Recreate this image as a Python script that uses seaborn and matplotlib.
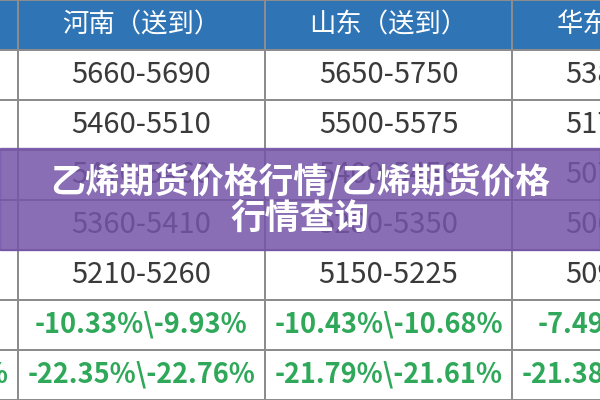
import numpy as np
import matplotlib
matplotlib.use("Agg")
import matplotlib.pyplot as plt
import matplotlib.patches as mpatches
import seaborn as sns

sns.set_style("white")
plt.rcParams["font.family"] = ["Noto Sans CJK SC", "DejaVu Sans"]

# table content (columns are clipped at the picture edges)
headers = ["", "河南（送到）", "山东（送到）", "华东（送到）"]
col0 = ["5600-5650", "5420-5480", "5330-5390", "5300-5360", "5180-5230", "-9.87%\\-9.56%", "-22.10%\\-21.95%"]
col1 = ["5660-5690", "5460-5510", "5410-5460", "5360-5410", "5210-5260", "-10.33%\\-9.93%", "-22.35%\\-22.76%"]
col2 = ["5650-5750", "5500-5575", "5400-5450", "5280-5350", "5150-5225", "-10.43%\\-10.68%", "-21.79%\\-21.61%"]
col3 = ["5380-5450", "5170-5250", "5070-5150", "5060-5120", "5090-5150", "-7.49%\\-7.30%", "-21.38%\\-21.20%"]
title_text = "乙烯期货价格行情/乙烯期货价格\n行情查询"

cols = [col0, col1, col2, col3]
n_rows = len(col1) + 1
n_cols = len(cols)

# 0 = header, 1 = body
kind = np.ones((n_rows, n_cols))
kind[0, :] = 0

fig = plt.figure(figsize=(6, 4), dpi=100)
ax = fig.add_axes([0, 0, 1, 1])
sns.heatmap(kind, ax=ax, cmap=["#2F75B5", "#FFFFFF"], cbar=False,
            linewidths=1.2, linecolor="#8C8C8C", xticklabels=False, yticklabels=False)

green = "#2FA85A"
for c in range(n_cols):
    ax.text(c + 0.5, 0.5, headers[c], ha="center", va="center", color="white", fontsize=19)
    for r, val in enumerate(cols[c]):
        pct = "%" in val
        ax.text(c + 0.5, r + 1.5, val, ha="center", va="center",
                color=green if pct else "#3A3A3A",
                fontsize=19.5 if pct else 21, fontweight="bold" if pct else "normal")

# visible window: first column mostly cut off on the left
x0 = 1 - 18 / 247
ax.set_xlim(x0, x0 + 600 / 247)
ax.set_ylim(n_rows, 0)

# purple title banner
band = mpatches.Rectangle((x0, 2.96), 600 / 247, 2.04, color="#7454A8", alpha=0.85, zorder=5)
ax.add_patch(band)
ax.text(x0 + 300 / 247, 4.0, title_text, ha="center", va="center", color="white",
        fontsize=25, fontweight="heavy", linespacing=1.1, zorder=6)

fig.savefig("out.png", dpi=100)
